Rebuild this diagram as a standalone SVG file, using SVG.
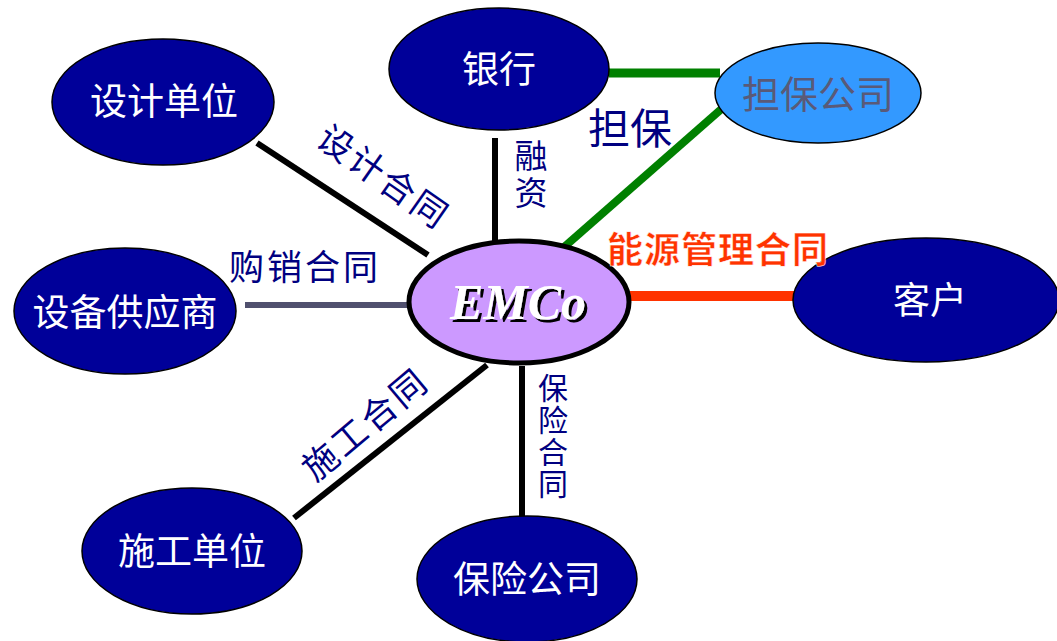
<svg xmlns="http://www.w3.org/2000/svg" width="1057" height="641" viewBox="0 0 1057 641">
<defs>
<filter id="shadow" x="-20%" y="-20%" width="140%" height="140%">
<feDropShadow dx="3" dy="3" stdDeviation="0" flood-color="#000"/>
</filter>
</defs>
<style>
.node{fill:#000099;stroke:#000;stroke-width:1.5}
.nt{font-family:"Liberation Sans","Noto Sans CJK SC",sans-serif;font-size:37px;fill:#fff;text-anchor:middle;dominant-baseline:central}
.lbl{font-family:"Liberation Serif","Noto Sans CJK SC",sans-serif;font-size:35px;fill:#000080;text-anchor:middle;dominant-baseline:central;letter-spacing:3px}
.vl{font-family:"Liberation Serif","Noto Sans CJK SC",sans-serif;font-size:30px;fill:#000080;text-anchor:middle;dominant-baseline:central}
.ln{stroke:#000;stroke-width:6;fill:none}
</style>
<rect width="1057" height="641" fill="#fff"/>
<g id="connectors">
<line class="ln" x1="257" y1="143" x2="428" y2="255"/>
<line class="ln" x1="495" y1="138" x2="495" y2="248"/>
<line x1="609" y1="73" x2="720" y2="73" stroke="#008000" stroke-width="9"/>
<line x1="726" y1="105" x2="563" y2="248" stroke="#008000" stroke-width="8"/>
<line x1="245" y1="305" x2="409" y2="305" stroke="#50506e" stroke-width="6"/>
<line x1="630" y1="296" x2="795" y2="296" stroke="#ff3300" stroke-width="10"/>
<line class="ln" x1="487" y1="365" x2="294" y2="518"/>
<line class="ln" x1="522" y1="366" x2="522" y2="519"/>
</g>
<g id="n-design"><ellipse class="node" cx="163" cy="102" rx="111" ry="63"/><text class="nt" x="164" y="102">设计单位</text></g>
<g id="n-bank"><ellipse class="node" cx="499" cy="69" rx="110" ry="61"/><text class="nt" x="499" y="70">银行</text></g>
<g id="n-guarantee"><ellipse cx="818" cy="93" rx="103" ry="50" fill="#3399ff" stroke="#000" stroke-width="1.5"/><text class="nt" x="818" y="95" style="fill:#5a5a78;font-size:38px">担保公司</text></g>
<g id="n-supplier"><ellipse class="node" cx="125" cy="311" rx="111" ry="63"/><text class="nt" x="125" y="313">设备供应商</text></g>
<g id="n-emco"><ellipse cx="519" cy="302" rx="110" ry="61" fill="#cc99ff" stroke="#000" stroke-width="5"/>
<text x="518" y="319" font-family="Liberation Serif,serif" font-size="50" font-style="italic" font-weight="bold" text-anchor="middle" fill="#fff" filter="url(#shadow)">EMCo</text></g>
<g id="n-client"><ellipse class="node" cx="926" cy="300" rx="133" ry="62"/><text class="nt" x="930" y="301">客户</text></g>
<g id="n-construct"><ellipse class="node" cx="192" cy="551" rx="110" ry="63"/><text class="nt" x="192" y="552">施工单位</text></g>
<g id="n-insure"><ellipse class="node" cx="527" cy="579" rx="110" ry="63"/><text class="nt" x="527" y="580">保险公司</text></g>
<g id="labels">
<text class="lbl" transform="translate(383,178) rotate(35)">设计合同</text>
<text class="lbl" x="305" y="268">购销合同</text>
<text class="vl" x="531" y="157" style="font-size:33px">融</text>
<text class="vl" x="531" y="194" style="font-size:33px">资</text>
<text class="lbl" x="630" y="129" style="font-size:42px;letter-spacing:0;font-family:'Liberation Sans','Noto Sans CJK SC',sans-serif">担保</text>
<text class="lbl" x="718" y="250" style="fill:#ff3300;font-size:36px;letter-spacing:1px;font-weight:bold;font-family:'Liberation Sans','Noto Sans CJK SC',sans-serif;stroke:#fff;stroke-width:0.5">能源管理合同</text>
<text class="lbl" transform="translate(366,425) rotate(-40)">施工合同</text>
<text class="vl" x="553" y="388">保</text>
<text class="vl" x="553" y="420">险</text>
<text class="vl" x="553" y="452">合</text>
<text class="vl" x="553" y="484">同</text>
</g>
</svg>
